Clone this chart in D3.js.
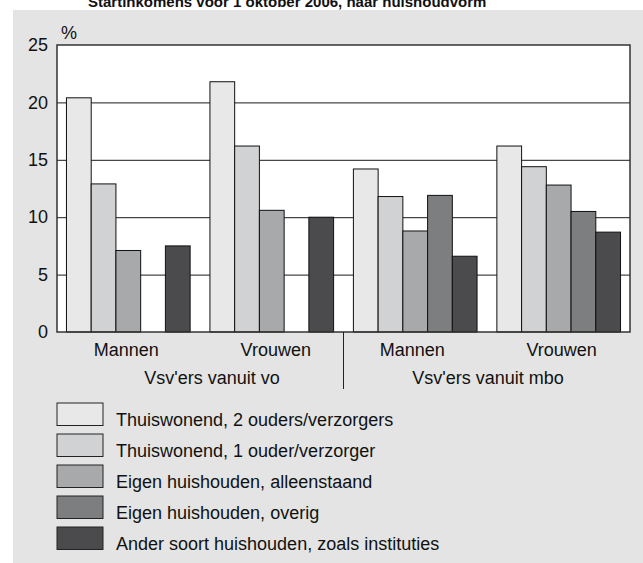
<!DOCTYPE html>
<html>
<head>
<meta charset="utf-8">
<script src="https://cdn.jsdelivr.net/npm/d3@7"></script>
<style>
  html, body { margin: 0; padding: 0; background: #ffffff; }
  svg { display: block; }
  text { font-family: "Liberation Sans", Arial, Helvetica, sans-serif; fill: #111; }
</style>
</head>
<body>
<svg id="chart" width="643" height="563"></svg>
<script>
// ---- data ----
const titleText = "Startinkomens voor 1 oktober 2006, naar huishoudvorm";
const categories = ["Mannen", "Vrouwen", "Mannen", "Vrouwen"];
const groupLabels = ["Vsv'ers vanuit vo", "Vsv'ers vanuit mbo"];
const seriesNames = [
  "Thuiswonend, 2 ouders/verzorgers",
  "Thuiswonend, 1 ouder/verzorger",
  "Eigen huishouden, alleenstaand",
  "Eigen huishouden, overig",
  "Ander soort huishouden, zoals instituties"
];
const thuis2 = [20.4, 21.8, 14.2, 16.2];
const thuis1 = [12.9, 16.2, 11.8, 14.4];
const eigenAlleen = [7.1, 10.6, 8.8, 12.8];
const eigenOverig = [null, null, 11.9, 10.5];
const ander = [7.5, 10.0, 6.6, 8.7];
const seriesValues = [thuis2, thuis1, eigenAlleen, eigenOverig, ander];
const yTicks = [0, 5, 10, 15, 20, 25];
const unitLabel = "%";
const colors = ["#e8e8e8", "#d1d2d4", "#a8a9ab", "#7d7e80", "#4b4b4d"];

// ---- layout ----
const svg = d3.select("#chart");
const plot = { left: 57, top: 45, right: 630, bottom: 332 };
const font = 18;

// background panel
svg.append("rect").attr("x", 13).attr("y", 10).attr("width", 643 - 13).attr("height", 563 - 10)
  .attr("fill", "#e3e4e3");

// title (cut off at top as in reference)
svg.append("text").attr("x", 88).attr("y", 7)
  .attr("font-size", 15).attr("font-weight", "bold").text(titleText);

// plot background
svg.append("rect").attr("x", plot.left).attr("y", plot.top)
  .attr("width", plot.right - plot.left).attr("height", plot.bottom - plot.top)
  .attr("fill", "#ffffff");

const y = d3.scaleLinear().domain([0, 25]).range([plot.bottom, plot.top]);
const x0 = d3.scaleBand().domain(d3.range(categories.length))
  .range([plot.left, plot.right]).paddingInner(0.138).paddingOuter(0.066);
const x1 = d3.scaleBand().domain(d3.range(seriesNames.length))
  .range([0, x0.bandwidth()]).padding(0);

// gridlines
const grid = svg.append("g").attr("transform", `translate(${plot.left},0)`)
  .call(d3.axisLeft(y).tickValues(yTicks.slice(1, -1)).tickSize(-(plot.right - plot.left)).tickFormat(""));
grid.select(".domain").remove();
grid.selectAll("line").attr("stroke", "#1a1a1a").attr("stroke-width", 1);

// y tick labels
const yAxis = svg.append("g").attr("transform", `translate(${plot.left - 9},0)`)
  .call(d3.axisLeft(y).tickValues(yTicks).tickSize(0).tickPadding(0));
yAxis.select(".domain").remove();
yAxis.selectAll("text").attr("font-size", font).attr("fill", "#111")
  .attr("font-family", '"Liberation Sans", Arial, Helvetica, sans-serif');

// unit label
svg.append("text").attr("x", 61).attr("y", 39).attr("font-size", font).text(unitLabel);

// bars
const cats = svg.append("g");
categories.forEach((c, ci) => {
  const g = cats.append("g").attr("transform", `translate(${x0(ci)},0)`);
  seriesValues.forEach((vals, si) => {
    const v = vals[ci];
    if (v === null || v === undefined) return;
    g.append("rect")
      .attr("x", x1(si)).attr("width", x1.bandwidth())
      .attr("y", y(v)).attr("height", y(0) - y(v))
      .attr("fill", colors[si]).attr("stroke", "#111").attr("stroke-width", 1);
  });
});

// plot border
svg.append("rect").attr("x", plot.left).attr("y", plot.top)
  .attr("width", plot.right - plot.left).attr("height", plot.bottom - plot.top)
  .attr("fill", "none").attr("stroke", "#333").attr("stroke-width", 1.5);

// category labels
const catOffsets = [-2, 4, -3, 3];
categories.forEach((c, ci) => {
  svg.append("text").attr("x", x0(ci) + x0.bandwidth() / 2 + catOffsets[ci]).attr("y", 356)
    .attr("text-anchor", "middle").attr("font-size", font).text(c);
});

// separator between groups
const sepX = (x0(1) + x0.bandwidth() + x0(2)) / 2;
svg.append("line").attr("x1", sepX).attr("x2", sepX).attr("y1", plot.bottom).attr("y2", 389)
  .attr("stroke", "#222").attr("stroke-width", 1);

// group labels
const groupOffsets = [12, 1];
groupLabels.forEach((gl, gi) => {
  const a = x0(gi * 2), b = x0(gi * 2 + 1) + x0.bandwidth();
  svg.append("text").attr("x", (a + b) / 2 + groupOffsets[gi]).attr("y", 384)
    .attr("text-anchor", "middle").attr("font-size", font).text(gl);
});

// legend
const legend = svg.append("g");
seriesNames.forEach((name, i) => {
  const top = 403 + i * 31;
  legend.append("rect").attr("x", 57).attr("y", top).attr("width", 46).attr("height", 22.5)
    .attr("fill", colors[i]).attr("stroke", "#222").attr("stroke-width", 1);
  legend.append("text").attr("x", 116).attr("y", top + 23).attr("font-size", font).text(name);
});
</script>
</body>
</html>
